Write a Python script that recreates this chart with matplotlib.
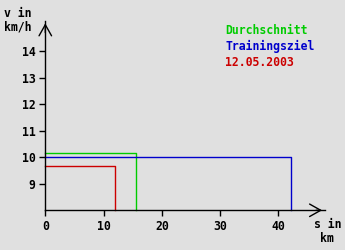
import matplotlib.pyplot as plt

# Werte
names = ['Durchschnitt', 'Trainingsziel', '12.05.2003']
colors = ['#00cc00', '#0000cc', '#cc0000']
strecke = [15.6, 42.1, 12.0]      # km
tempo = [10.18, 10.0, 9.66]       # km/h

xticks = [0, 10, 20, 30, 40]
yticks = [9, 10, 11, 12, 13, 14]

bg = '#e0e0e0'
font = dict(family='DejaVu Sans Mono', weight='bold', size=8.3)

fig = plt.figure(figsize=(3.45, 2.5), dpi=100, facecolor=bg)
ax = fig.add_axes([45.3 / 345, (250 - 210.3) / 250, 279.6 / 345, 189.8 / 250])
ax.set_facecolor(bg)
ax.set_xlim(0, 48)
ax.set_ylim(8, 15.16)

for s, v, c in zip(strecke, tempo, colors):
    ax.plot([0, s, s], [v, v, 8], color=c, lw=1, clip_on=False)

for sp in ['top', 'right']:
    ax.spines[sp].set_visible(False)
for sp in ['left', 'bottom']:
    ax.spines[sp].set_linewidth(1)
    ax.spines[sp].set_color('black')

ax.set_xticks(xticks)
ax.set_yticks(yticks)
ax.set_xticklabels([str(t) for t in xticks], **font)
ax.set_yticklabels([str(t) for t in yticks], **font)
ax.tick_params(length=4, width=1, pad=3)

# Pfeilspitzen
arrow = dict(arrowstyle='->,head_length=0.8,head_width=0.45', lw=1, color='black')
ax.annotate('', xy=(0, 15.16), xytext=(0, 14.6), arrowprops=arrow, annotation_clip=False)
ax.annotate('', xy=(48, 8), xytext=(46, 8), arrowprops=arrow, annotation_clip=False)

# Achsenbeschriftungen
fig.text(4 / 345, 1 - 13.5 / 250, 'v in', va='center', ha='left', **font)
fig.text(4 / 345, 1 - 27 / 250, 'km/h', va='center', ha='left', **font)
fig.text(341 / 345, 1 - 225 / 250, 's in', va='center', ha='right', **font)
fig.text(334 / 345, 1 - 238 / 250, 'km', va='center', ha='right', **font)

# Legende
for i, (n, c) in enumerate(zip(names, colors)):
    fig.text(225 / 345, 1 - (31 + 15.5 * i) / 250, n, color=c, va='center', ha='left', **font)

fig.savefig('out.png', dpi=100, facecolor=bg)
